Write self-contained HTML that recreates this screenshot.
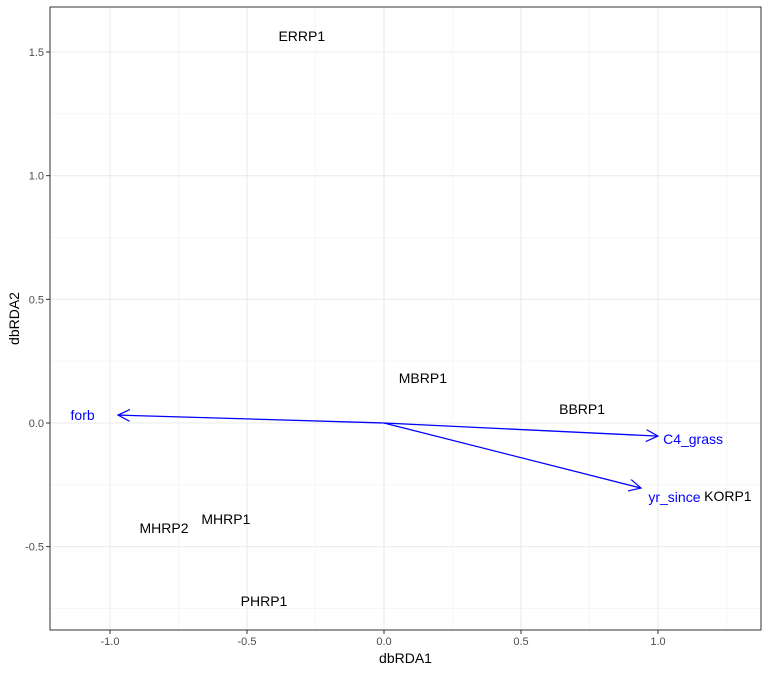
<!DOCTYPE html>
<html><head><meta charset="utf-8"><style>
body{margin:0;background:#fff;font-family:"Liberation Sans",sans-serif}
svg text{font-family:"Liberation Sans",sans-serif}
</style></head><body>
<svg id="c" width="768" height="672"></svg>
<script>
const siteNames=["ERRP1","MBRP1","BBRP1","KORP1","MHRP1","MHRP2","PHRP1"];
const siteX=[-0.30,0.142,0.723,1.255,-0.577,-0.803,-0.438];
const siteY=[1.565,0.182,0.057,-0.295,-0.388,-0.425,-0.72];
const vecNames=["forb","C4_grass","yr_since"];
const vecX=[-0.971,1.0,0.938];
const vecY=[0.032,-0.053,-0.263];
const vecLabelX=[-1.1,1.128,1.06];
const vecLabelY=[0.032,-0.065,-0.3];
const xTicks=[-1.0,-0.5,0.0,0.5,1.0];
const yTicks=[-0.5,0.0,0.5,1.0,1.5];
const xTickLabels=["-1.0","-0.5","0.0","0.5","1.0"];
const yTickLabels=["-0.5","0.0","0.5","1.0","1.5"];

const L=50,R=761,T=7,B=630;
const xMin=-1.219,xMax=1.376,yMin=-0.837,yMax=1.682;
const sx=v=>L+(v-xMin)/(xMax-xMin)*(R-L);
const sy=v=>B-(v-yMin)/(yMax-yMin)*(B-T);
const svg=document.getElementById('c');
const NS="http://www.w3.org/2000/svg";
function mk(t,a,p){const e=document.createElementNS(NS,t);for(const k in a)e.setAttribute(k,a[k]);(p||svg).appendChild(e);return e;}
const defs=mk('defs',{});
const m=mk('marker',{id:'ah',markerWidth:'14',markerHeight:'14',refX:'12',refY:'6',orient:'auto',markerUnits:'userSpaceOnUse'},defs);
mk('path',{d:'M0,0 L12,6 L0,12',fill:'none',stroke:'#0000ff','stroke-width':'1.2'},m);
for(let i=0;i<xTicks.length+1;i++){const v=xTicks[0]-0.25+i*0.5;if(v>xMin&&v<xMax){const g=mk('line',{x1:sx(v),x2:sx(v),y1:T,y2:B,stroke:'#f0f0f0','stroke-width':'0.6'});}}
for(let i=0;i<yTicks.length+2;i++){const v=yTicks[0]-0.25+i*0.5;if(v>yMin&&v<yMax){const g=mk('line',{x1:L,x2:R,y1:sy(v),y2:sy(v),stroke:'#f0f0f0','stroke-width':'0.6'});}}
xTicks.forEach((v,i)=>{const g=mk('line',{x1:sx(v),x2:sx(v),y1:T,y2:B,stroke:'#ebebeb','stroke-width':'1.1'});
mk('line',{x1:sx(v),x2:sx(v),y1:B,y2:B+4,stroke:'#333'});
const t=mk('text',{x:sx(v),y:B+15,'text-anchor':'middle','font-size':'11',fill:'#4d4d4d'});t.textContent=xTickLabels[i];});
yTicks.forEach((v,i)=>{const g=mk('line',{x1:L,x2:R,y1:sy(v),y2:sy(v),stroke:'#ebebeb','stroke-width':'1.1'});
mk('line',{x1:L-4,x2:L,y1:sy(v),y2:sy(v),stroke:'#333'});
const t=mk('text',{x:L-6,y:sy(v)+4,'text-anchor':'end','font-size':'11',fill:'#4d4d4d'});t.textContent=yTickLabels[i];});
const fr=mk('rect',{x:L,y:T,width:R-L,height:B-T,fill:'none',stroke:'#333','stroke-width':'1'});

vecNames.forEach((n,i)=>{const a=mk('line',{x1:sx(0),y1:sy(0),x2:sx(vecX[i]),y2:sy(vecY[i]),stroke:'#0000ff','stroke-width':'1.3','marker-end':'url(#ah)'});

const t=mk('text',{x:sx(vecLabelX[i]),y:sy(vecLabelY[i])+5,'text-anchor':'middle','font-size':'14',fill:'#0000ff'});t.textContent=n;
});
siteNames.forEach((n,i)=>{const t=mk('text',{x:sx(siteX[i]),y:sy(siteY[i])+5,'text-anchor':'middle','font-size':'14',fill:'#000'});t.textContent=n;
});
const xt=mk('text',{x:(L+R)/2,y:663,'text-anchor':'middle','font-size':'14',fill:'#000'});xt.textContent='dbRDA1';
const yt=mk('text',{x:19,y:(T+B)/2,'text-anchor':'middle','font-size':'14',fill:'#000',transform:`rotate(-90 19 ${(T+B)/2})`});yt.textContent='dbRDA2';
</script></body></html>
